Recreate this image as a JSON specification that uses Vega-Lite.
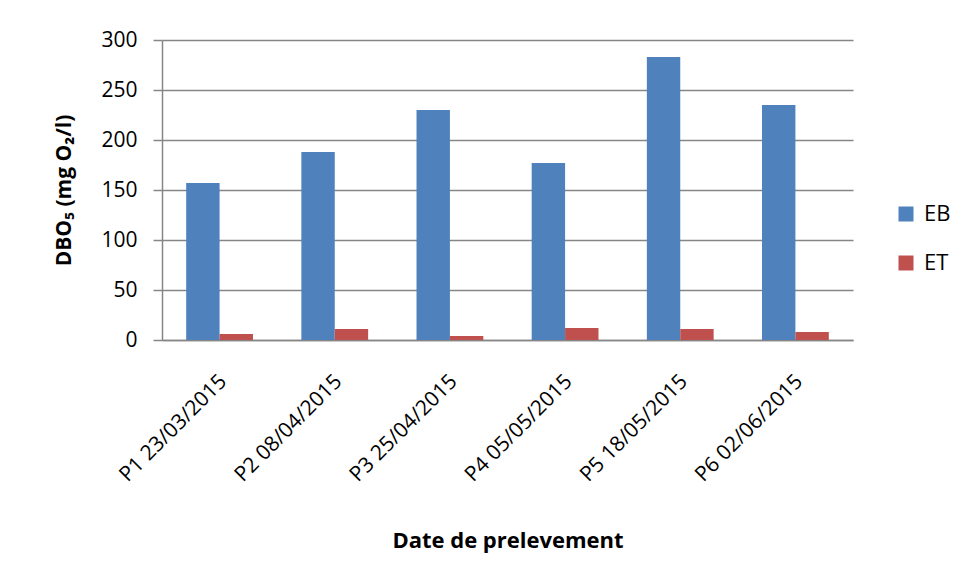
{
  "$schema": "https://vega.github.io/schema/vega-lite/v6.json",
  "width": 691,
  "height": 300,
  "autosize": {"type": "none"},
  "padding": {"left": 162, "top": 40, "right": 104, "bottom": 241},
  "background": "white",
  "data": {
    "values": [
      {"date": "P1 23/03/2015", "serie": "EB", "dbo5": 157},
      {"date": "P1 23/03/2015", "serie": "ET", "dbo5": 6},
      {"date": "P2 08/04/2015", "serie": "EB", "dbo5": 188},
      {"date": "P2 08/04/2015", "serie": "ET", "dbo5": 11},
      {"date": "P3 25/04/2015", "serie": "EB", "dbo5": 230},
      {"date": "P3 25/04/2015", "serie": "ET", "dbo5": 4},
      {"date": "P4 05/05/2015", "serie": "EB", "dbo5": 177},
      {"date": "P4 05/05/2015", "serie": "ET", "dbo5": 12},
      {"date": "P5 18/05/2015", "serie": "EB", "dbo5": 283},
      {"date": "P5 18/05/2015", "serie": "ET", "dbo5": 11},
      {"date": "P6 02/06/2015", "serie": "EB", "dbo5": 235},
      {"date": "P6 02/06/2015", "serie": "ET", "dbo5": 8}
    ]
  },
  "mark": {"type": "bar"},
  "encoding": {
    "x": {
      "field": "date",
      "type": "nominal",
      "sort": null,
      "scale": {"paddingInner": 0.42, "paddingOuter": 0.21},
      "axis": {
        "title": "Date de prelevement",
        "titleFont": "Open Sans",
        "titleFontSize": 22,
        "titleFontWeight": "bold",
        "titleColor": "black",
        "titlePadding": 45,
        "labelAngle": -45,
        "labelAlign": "right",
        "labelBaseline": "middle",
        "labelFont": "Open Sans",
        "labelFontSize": 21,
        "labelColor": "black",
        "labelOffset": 4,
        "labelPadding": 38,
        "ticks": false,
        "tickSize": 0,
        "domainColor": "#868686",
        "domainWidth": 1.5,
        "grid": false
      }
    },
    "xOffset": {"field": "serie", "type": "nominal", "scale": {"paddingInner": 0, "paddingOuter": 0}},
    "y": {
      "field": "dbo5",
      "type": "quantitative",
      "scale": {"domain": [0, 300], "nice": false},
      "axis": {
        "title": "DBO₅ (mg O₂/l)",
        "titleFont": "Open Sans",
        "titleFontSize": 21,
        "titleFontWeight": "bold",
        "titleColor": "black",
        "titlePadding": 26,
        "values": [0, 50, 100, 150, 200, 250, 300],
        "labelFont": "Open Sans",
        "labelFontSize": 21,
        "labelColor": "black",
        "labelPadding": 16,
        "tickSize": 9,
        "tickColor": "#868686",
        "tickWidth": 1.5,
        "domainColor": "#868686",
        "domainWidth": 1.5,
        "grid": true,
        "gridColor": "#868686",
        "gridWidth": 1.5
      }
    },
    "color": {
      "field": "serie",
      "type": "nominal",
      "scale": {"domain": ["EB", "ET"], "range": ["#4F81BD", "#C0504D"]},
      "legend": {
        "title": null,
        "orient": "none",
        "legendX": 733,
        "legendY": 163,
        "symbolType": "square",
        "symbolSize": 225,
        "symbolStrokeWidth": 0,
        "labelFont": "Open Sans",
        "labelFontSize": 22,
        "labelColor": "black",
        "labelOffset": 7,
        "rowPadding": 27
      }
    }
  },
  "config": {"view": {"stroke": null}}
}
